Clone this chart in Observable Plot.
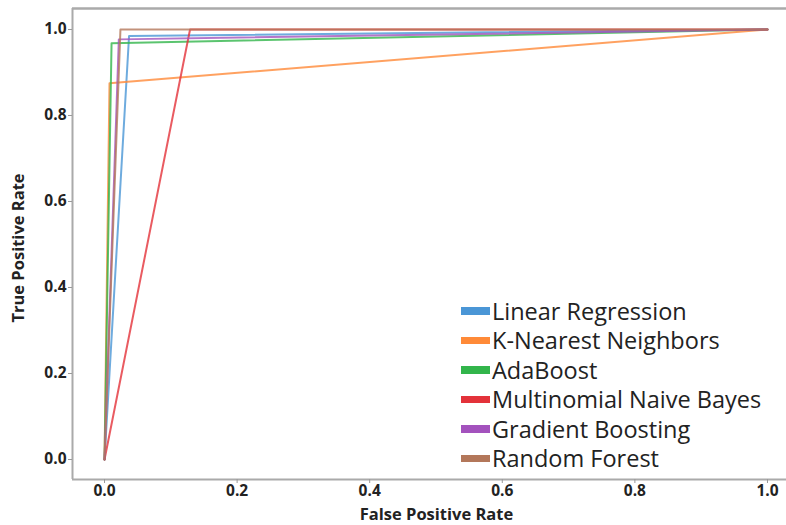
<!DOCTYPE html>
<html><head><meta charset="utf-8">
<script src="https://cdn.jsdelivr.net/npm/d3@7"></script>
<script src="https://cdn.jsdelivr.net/npm/@observablehq/plot@0.6"></script>
<style>
body{margin:0;background:#fff;}
#wrap{position:relative;width:786px;height:525px;}
#legend{position:absolute;left:461px;top:296px;font-family:"Open Sans",Lato,sans-serif;font-size:23.5px;color:#222;}
.row{display:flex;align-items:center;height:29.5px;white-space:nowrap;}
.sw{width:29px;height:7.5px;margin-right:2px;}
</style></head>
<body><div id="wrap"><div id="legend"></div></div>
<script>
const models = ["Linear Regression","K-Nearest Neighbors","AdaBoost","Multinomial Naive Bayes","Gradient Boosting","Random Forest"];
const colors = ["#4a96d6","#ff8a38","#32b54b","#e3323a","#a352bd","#b3775a"];
const fprs = [[0,0.037,1],[0,0.0075,1],[0,0.0106,1],[0,0.129,1],[0,0.0216,1],[0,0.024,1]];
const tprs = [[0,0.985,1],[0,0.875,1],[0,0.968,1],[0,1.0,1],[0,0.977,1],[0,1.0,1]];
const xTicks = [0,0.2,0.4,0.6,0.8,1.0];
const yTicks = [0,0.2,0.4,0.6,0.8,1.0];
const xLabel = "False Positive Rate", yLabel = "True Positive Rate";

const data = [];
models.forEach((m,i)=>fprs[i].forEach((f,j)=>data.push({model:m,fpr:f,tpr:tprs[i][j]})));

const xDom = [-0.0483,1.0287], yDom = [-0.0465,1.0488];
const chart = Plot.plot({
  width:786, height:525, marginLeft:72, marginRight:0, marginTop:8, marginBottom:46,
  x:{domain:xDom, axis:null}, y:{domain:yDom, axis:null},
  color:{domain:models, range:colors},
  style:{fontFamily:"'Open Sans', sans-serif", fontWeight:"bold", fontSize:"15.5px", color:"#222", background:"#fff"},
  marks:[
    Plot.line(data,{x:"fpr",y:"tpr",z:"model",stroke:"model",strokeWidth:2,strokeOpacity:0.8}),
    Plot.ruleY([yDom[1]],{stroke:"#aaa",strokeWidth:2.5}),
    Plot.ruleY([yDom[0]],{stroke:"#aaa",strokeWidth:2}),
    Plot.ruleX([xDom[0]],{stroke:"#aaa",strokeWidth:2}),
    Plot.axisX({ticks:xTicks, tickFormat:d=>d.toFixed(1), tickSize:4, tickPadding:1, stroke:"#999", label:null, fontSize:15.5}),
    Plot.axisY({ticks:yTicks, tickFormat:d=>d.toFixed(1), tickSize:4, tickPadding:2, stroke:"#999", label:null, fontSize:15.5}),
    Plot.text([xLabel],{text:d=>d, frameAnchor:"bottom", textAnchor:"middle", lineAnchor:"middle", dx:7, dy:35, fontSize:16.5, fontWeight:"bold", fill:"#222"}),
    Plot.text([yLabel],{text:d=>d, frameAnchor:"left", textAnchor:"middle", lineAnchor:"middle", dx:-54, dy:4, rotate:-90, fontSize:16.5, fontWeight:"bold", fill:"#222"})
  ]
});
document.getElementById("wrap").prepend(chart);
const lg = document.getElementById("legend");
models.forEach((m,i)=>{
  const r=document.createElement("div");r.className="row";
  r.innerHTML=`<span class="sw" style="background:${colors[i]}"></span><span>${m}</span>`;
  lg.appendChild(r);
});
</script></body></html>
